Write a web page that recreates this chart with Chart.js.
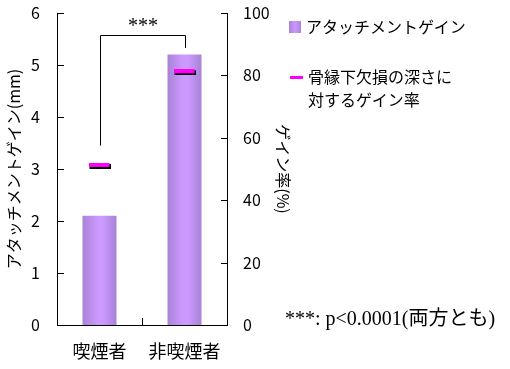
<!DOCTYPE html>
<html>
<head>
<meta charset="utf-8">
<script src="https://cdn.jsdelivr.net/npm/chart.js@4"></script>
<style>
  body { margin: 0; background: #fff; }
  #wrap { position: relative; width: 510px; height: 369px; }
  .lg { position: absolute; font-family: "Noto Sans CJK JP", sans-serif; font-size: 16px; color: #000; line-height: 23px; white-space: nowrap; }
  .note { position: absolute; font-family: "Liberation Serif", "Noto Sans CJK JP", serif; font-size: 20px; color: #000; white-space: nowrap; }
</style>
</head>
<body>
<div id="wrap">
  <canvas id="gainChart" width="510" height="369"></canvas>
  <div style="position:absolute;left:289px;top:21px;width:12px;height:12px;background:linear-gradient(90deg,#a883d6,#cc99ff 50%,#a883d6);"></div>
  <div class="lg" style="left:306px;top:15px;">アタッチメントゲイン</div>
  <div style="position:absolute;left:290px;top:76px;width:13px;height:3px;background:#ff00ff;"></div>
  <div class="lg" style="left:308px;top:65px;">骨縁下欠損の深さに<br>対するゲイン率</div>
  <div class="note" style="left:285px;top:302px;">***: p&lt;0.0001(両方とも)</div>
</div>
<script>
// データ
const categories = ['喫煙者', '非喫煙者'];
const attachmentGain = [2.1, 5.2];     // mm
const gainRate = [51, 81];            // %
const leftTicks = [0, 1, 2, 3, 4, 5, 6];
const rightTicks = [0, 20, 40, 60, 80, 100];
// 有意差ブラケット (左軸の値)
const bracketTop = 5.58, bracketLeftEnd = 3.45, bracketRightEnd = 5.33, starsY = 5.79;

const fontJP = '"Noto Sans CJK JP", sans-serif';

// マーカー(マゼンタ + 黒い影)
const marker = document.createElement('canvas');
marker.width = 22; marker.height = 6;
const mctx = marker.getContext('2d');
mctx.fillStyle = '#000';
mctx.fillRect(1, 1, 21, 5);
mctx.fillStyle = '#ff00ff';
mctx.fillRect(0, 0, 21, 4);

// 棒のグラデーション (棒ごとに別のオブジェクト)
const barGradient = {
    id: 'barGradient',
    beforeDatasetsDraw(chart) {
        const ctx = chart.ctx;
        chart.getDatasetMeta(0).data.forEach(bar => {
            const x0 = bar.x - bar.width / 2, x1 = bar.x + bar.width / 2;
            const g = ctx.createLinearGradient(x0, 0, x1, 0);
            g.addColorStop(0, '#a883d6');
            g.addColorStop(0.45, '#cc99ff');
            g.addColorStop(0.6, '#cc99ff');
            g.addColorStop(1, '#a883d6');
            bar.options = Object.assign({}, bar.options, { backgroundColor: g });
        });
    }
};

// 内向きの目盛りとブラケット
const extras = {
    id: 'extras',
    afterDraw(chart) {
        const ctx = chart.ctx;
        const x = chart.scales.x, yL = chart.scales.yL, yR = chart.scales.yR;
        const area = chart.chartArea;
        ctx.save();
        ctx.strokeStyle = '#000';
        ctx.lineWidth = 1;
        ctx.beginPath();
        leftTicks.forEach(v => {
            const py = Math.round(yL.getPixelForValue(v)) + 0.5;
            ctx.moveTo(area.left, py); ctx.lineTo(area.left + 7, py);
        });
        rightTicks.forEach(v => {
            const py = Math.round(yR.getPixelForValue(v)) + 0.5;
            ctx.moveTo(area.right, py); ctx.lineTo(area.right - 6, py);
        });
        const mx = Math.round(x.getPixelForValue(0.5)) + 0.5;
        ctx.moveTo(mx, area.bottom); ctx.lineTo(mx, area.bottom - 7);
        // ブラケット
        const bx0 = Math.round(x.getPixelForValue(0)) + 0.5;
        const bx1 = Math.round(x.getPixelForValue(1)) + 0.5;
        const by = Math.round(yL.getPixelForValue(bracketTop)) + 0.5;
        ctx.moveTo(bx0, yL.getPixelForValue(bracketLeftEnd));
        ctx.lineTo(bx0, by);
        ctx.lineTo(bx1, by);
        ctx.lineTo(bx1, yL.getPixelForValue(bracketRightEnd));
        ctx.stroke();
        ctx.font = '20px "Liberation Serif", serif';
        ctx.fillStyle = '#000';
        ctx.textAlign = 'center';
        ctx.textBaseline = 'middle';
        ctx.fillText('***', (bx0 + bx1) / 2, yL.getPixelForValue(starsY) + 3);
        ctx.restore();
    }
};

function fixY(w) {
    return s => { s.width = w; s.paddingTop = 0; s.paddingBottom = 0; };
}

new Chart(document.getElementById('gainChart'), {
    data: {
        labels: categories,
        datasets: [{
            type: 'bar',
            label: 'アタッチメントゲイン',
            data: attachmentGain,
            yAxisID: 'yL',
            backgroundColor: '#bb8eee',
            barPercentage: 0.4,
            categoryPercentage: 1,
            order: 2
        }, {
            type: 'line',
            label: '骨縁下欠損の深さに対するゲイン率',
            data: gainRate,
            yAxisID: 'yR',
            showLine: false,
            pointStyle: marker,
            order: 1
        }]
    },
    options: {
        responsive: false,
        animation: false,
        layout: { padding: { top: 13, right: 213, left: 0, bottom: 0 } },
        plugins: {
            legend: { display: false },
            tooltip: { enabled: false }
        },
        scales: {
            x: {
                offset: true,
                grid: { display: false, drawTicks: false },
                border: { display: true, color: '#000', width: 1 },
                ticks: { color: '#000', padding: 15, font: { family: fontJP, size: 18 } },
                afterFit(s) { s.height = 44; s.paddingLeft = 0; s.paddingRight = 0; }
            },
            yL: {
                position: 'left',
                min: 0, max: 6,
                afterBuildTicks(s) { s.ticks = leftTicks.map(v => ({ value: v })); },
                grid: { display: false, drawTicks: false },
                border: { display: true, color: '#000', width: 1 },
                ticks: { color: '#000', padding: 17, font: { family: fontJP, size: 16 } },
                title: { display: true, text: 'アタッチメントゲイン(mm)', color: '#000', font: { family: fontJP, size: 16 }, padding: { top: 4, bottom: 0 } },
                afterFit: fixY(57)
            },
            yR: {
                position: 'right',
                min: 0, max: 100,
                afterBuildTicks(s) { s.ticks = rightTicks.map(v => ({ value: v })); },
                grid: { display: false, drawTicks: false },
                border: { display: true, color: '#000', width: 1 },
                ticks: { color: '#000', padding: 16, font: { family: fontJP, size: 16 } },
                title: { display: true, text: 'ゲイン率(%)', color: '#000', font: { family: fontJP, size: 16 }, padding: { top: 4, bottom: 0 } },
                afterFit: fixY(70)
            }
        }
    },
    plugins: [barGradient, extras]
});
</script>
</body>
</html>
